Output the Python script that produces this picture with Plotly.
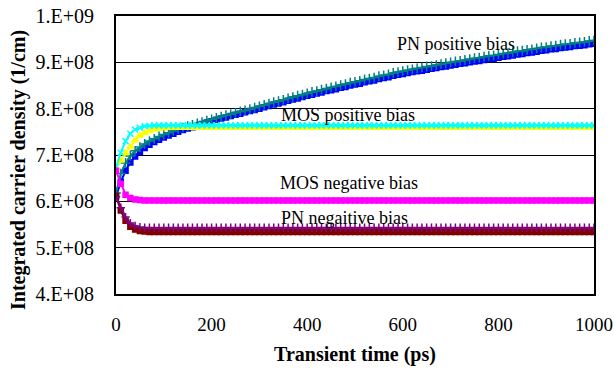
import plotly.graph_objects as go

# time grid (ps), sampled every 10 ps
times = list(range(0, 1001, 10))

# values in units of 1e8 (1/cm)
pn_pos_a = [6.18, 6.60, 6.83, 6.98, 7.09, 7.17, 7.24, 7.30, 7.35, 7.40, 7.44,
            7.48, 7.52, 7.56, 7.59, 7.62, 7.65, 7.68, 7.71, 7.74, 7.77,
            7.80, 7.83, 7.86, 7.88, 7.91, 7.94, 7.96, 7.99, 8.02, 8.05,
            8.08, 8.11, 8.14, 8.16, 8.19, 8.22, 8.25, 8.28, 8.30, 8.33,
            8.36, 8.38, 8.41, 8.43, 8.46, 8.48, 8.51, 8.53, 8.56, 8.58,
            8.60, 8.63, 8.65, 8.67, 8.70, 8.72, 8.74, 8.77, 8.79, 8.81,
            8.83, 8.85, 8.87, 8.89, 8.91, 8.92, 8.94, 8.96, 8.98, 9.00,
            9.02, 9.03, 9.05, 9.07, 9.09, 9.10, 9.12, 9.14, 9.15, 9.17,
            9.19, 9.20, 9.22, 9.24, 9.25, 9.27, 9.28, 9.30, 9.32, 9.33,
            9.35, 9.36, 9.38, 9.39, 9.40, 9.42, 9.43, 9.44, 9.46, 9.47]

pn_pos_b = [6.10, 6.42, 6.66, 6.84, 6.97, 7.07, 7.15, 7.22, 7.28, 7.33, 7.38,
            7.42, 7.46, 7.50, 7.54, 7.57, 7.60, 7.64, 7.67, 7.70, 7.73,
            7.76, 7.79, 7.81, 7.84, 7.87, 7.89, 7.92, 7.95, 7.97, 8.00,
            8.03, 8.06, 8.09, 8.11, 8.14, 8.17, 8.20, 8.22, 8.25, 8.28,
            8.30, 8.33, 8.35, 8.38, 8.40, 8.42, 8.45, 8.47, 8.50, 8.52,
            8.54, 8.57, 8.59, 8.61, 8.64, 8.66, 8.68, 8.71, 8.73, 8.75,
            8.77, 8.79, 8.81, 8.82, 8.84, 8.86, 8.88, 8.90, 8.91, 8.93,
            8.95, 8.97, 8.98, 9.00, 9.02, 9.03, 9.05, 9.07, 9.08, 9.10,
            9.12, 9.13, 9.15, 9.17, 9.18, 9.20, 9.21, 9.23, 9.25, 9.26,
            9.28, 9.29, 9.31, 9.32, 9.33, 9.35, 9.36, 9.37, 9.39, 9.40]

mos_pos_a = [6.74, 7.05, 7.30, 7.46, 7.55, 7.59, 7.62, 7.63, 7.64, 7.64, 7.64,
             7.64, 7.64, 7.64, 7.64, 7.64, 7.64, 7.64, 7.64, 7.64, 7.64,
             7.64, 7.64, 7.64, 7.64, 7.64, 7.64, 7.64, 7.64, 7.64, 7.64,
             7.64, 7.64, 7.64, 7.64, 7.64, 7.64, 7.64, 7.64, 7.64, 7.64,
             7.64, 7.64, 7.64, 7.64, 7.64, 7.64, 7.64, 7.64, 7.64, 7.64,
             7.64, 7.64, 7.64, 7.64, 7.64, 7.64, 7.64, 7.64, 7.64, 7.64,
             7.64, 7.64, 7.64, 7.64, 7.64, 7.64, 7.64, 7.64, 7.64, 7.64,
             7.64, 7.64, 7.64, 7.64, 7.64, 7.64, 7.64, 7.64, 7.64, 7.64,
             7.64, 7.64, 7.64, 7.64, 7.64, 7.64, 7.64, 7.64, 7.64, 7.64,
             7.64, 7.64, 7.64, 7.64, 7.64, 7.64, 7.64, 7.64, 7.64, 7.64]

mos_pos_b = [6.72, 6.88, 7.04, 7.18, 7.32, 7.42, 7.48, 7.52, 7.55, 7.57, 7.58,
             7.59, 7.59, 7.59, 7.59, 7.59, 7.59, 7.59, 7.59, 7.59, 7.59,
             7.59, 7.59, 7.59, 7.59, 7.59, 7.59, 7.59, 7.59, 7.59, 7.59,
             7.59, 7.59, 7.59, 7.59, 7.59, 7.59, 7.59, 7.59, 7.59, 7.59,
             7.59, 7.59, 7.59, 7.59, 7.59, 7.59, 7.59, 7.59, 7.59, 7.59,
             7.59, 7.59, 7.59, 7.59, 7.59, 7.59, 7.59, 7.59, 7.59, 7.59,
             7.59, 7.59, 7.59, 7.59, 7.59, 7.59, 7.59, 7.59, 7.59, 7.59,
             7.59, 7.59, 7.59, 7.59, 7.59, 7.59, 7.59, 7.59, 7.59, 7.59,
             7.59, 7.59, 7.59, 7.59, 7.59, 7.59, 7.59, 7.59, 7.59, 7.59,
             7.59, 7.59, 7.59, 7.59, 7.59, 7.59, 7.59, 7.59, 7.59, 7.59]

mos_neg = [6.66, 6.38, 6.14, 6.07, 6.04, 6.03, 6.02, 6.02, 6.02, 6.02, 6.02,
           6.02, 6.02, 6.02, 6.02, 6.02, 6.02, 6.02, 6.02, 6.02, 6.02,
           6.02, 6.02, 6.02, 6.02, 6.02, 6.02, 6.02, 6.02, 6.02, 6.02,
           6.02, 6.02, 6.02, 6.02, 6.02, 6.02, 6.02, 6.02, 6.02, 6.02,
           6.02, 6.02, 6.02, 6.02, 6.02, 6.02, 6.02, 6.02, 6.02, 6.02,
           6.02, 6.02, 6.02, 6.02, 6.02, 6.02, 6.02, 6.02, 6.02, 6.02,
           6.02, 6.02, 6.02, 6.02, 6.02, 6.02, 6.02, 6.02, 6.02, 6.02,
           6.02, 6.02, 6.02, 6.02, 6.02, 6.02, 6.02, 6.02, 6.02, 6.02,
           6.02, 6.02, 6.02, 6.02, 6.02, 6.02, 6.02, 6.02, 6.02, 6.02,
           6.02, 6.02, 6.02, 6.02, 6.02, 6.02, 6.02, 6.02, 6.02, 6.02]

pn_neg_a = [6.12, 5.80, 5.58, 5.45, 5.39, 5.36, 5.35, 5.34, 5.34, 5.34, 5.34,
            5.34, 5.34, 5.34, 5.34, 5.34, 5.34, 5.34, 5.34, 5.34, 5.34,
            5.34, 5.34, 5.34, 5.34, 5.34, 5.34, 5.34, 5.34, 5.34, 5.34,
            5.34, 5.34, 5.34, 5.34, 5.34, 5.34, 5.34, 5.34, 5.34, 5.34,
            5.34, 5.34, 5.34, 5.34, 5.34, 5.34, 5.34, 5.34, 5.34, 5.34,
            5.34, 5.34, 5.34, 5.34, 5.34, 5.34, 5.34, 5.34, 5.34, 5.34,
            5.34, 5.34, 5.34, 5.34, 5.34, 5.34, 5.34, 5.34, 5.34, 5.34,
            5.34, 5.34, 5.34, 5.34, 5.34, 5.34, 5.34, 5.34, 5.34, 5.34,
            5.34, 5.34, 5.34, 5.34, 5.34, 5.34, 5.34, 5.34, 5.34, 5.34,
            5.34, 5.34, 5.34, 5.34, 5.34, 5.34, 5.34, 5.34, 5.34, 5.34]

pn_neg_b = [6.10, 5.86, 5.66, 5.53, 5.47, 5.44, 5.43, 5.43, 5.43, 5.43, 5.43,
            5.43, 5.43, 5.43, 5.43, 5.43, 5.43, 5.43, 5.43, 5.43, 5.43,
            5.43, 5.43, 5.43, 5.43, 5.43, 5.43, 5.43, 5.43, 5.43, 5.43,
            5.43, 5.43, 5.43, 5.43, 5.43, 5.43, 5.43, 5.43, 5.43, 5.43,
            5.43, 5.43, 5.43, 5.43, 5.43, 5.43, 5.43, 5.43, 5.43, 5.43,
            5.43, 5.43, 5.43, 5.43, 5.43, 5.43, 5.43, 5.43, 5.43, 5.43,
            5.43, 5.43, 5.43, 5.43, 5.43, 5.43, 5.43, 5.43, 5.43, 5.43,
            5.43, 5.43, 5.43, 5.43, 5.43, 5.43, 5.43, 5.43, 5.43, 5.43,
            5.43, 5.43, 5.43, 5.43, 5.43, 5.43, 5.43, 5.43, 5.43, 5.43,
            5.43, 5.43, 5.43, 5.43, 5.43, 5.43, 5.43, 5.43, 5.43, 5.43]

y_tick_vals = [4e8, 5e8, 6e8, 7e8, 8e8, 9e8, 1e9]
y_tick_text = ["4.E+08", "5.E+08", "6.E+08", "7.E+08", "8.E+08", "9.E+08", "1.E+09"]
x_tick_vals = [0, 200, 400, 600, 800, 1000]

labels = ["PN positive bias", "MOS positive bias", "MOS negative bias", "PN negaitive bias"]
label_x = [712, 485, 488, 479]
label_y = [9.40e8, 7.86e8, 6.40e8, 5.64e8]

SCALE = 1e8
FONT = "Liberation Serif"

series = [
    (pn_pos_b, "#0000FF", "square", 5, 2),
    (pn_pos_a, "#008080", "cross-thin", 7, 2),
    (mos_pos_b, "#FFFF00", "triangle-up", 6, 2),
    (mos_pos_a, "#00FFFF", "x-thin", 6, 2),
    (mos_neg, "#FF00FF", "square", 5, 2),
    (pn_neg_a, "#800000", "square", 5, 2),
    (pn_neg_b, "#800080", "cross-thin", 6, 2),
]

fig = go.Figure()
for vals, color, sym, msize, lw in series:
    fig.add_trace(go.Scatter(
        x=times, y=[v * SCALE for v in vals], mode="lines+markers",
        line=dict(color=color, width=lw),
        marker=dict(symbol=sym, size=msize, color=color,
                    line=dict(color=color, width=1.5)),
        showlegend=False, hoverinfo="skip"))

for t, lx, ly in zip(labels, label_x, label_y):
    fig.add_annotation(x=lx, y=ly, xref="x", yref="y", text=t, showarrow=False,
                       font=dict(family=FONT, size=18, color="black"))

# y-axis title placed as a rotated annotation to match the reference position
fig.add_annotation(x=-0.205, y=0.446, xref="paper", yref="paper",
                   text="<b>Integrated carrier density (1/cm)</b>", textangle=-90,
                   showarrow=False, xanchor="center", yanchor="middle",
                   font=dict(family=FONT, size=20, color="black"))

fig.update_layout(
    width=614, height=376,
    margin=dict(l=116, r=20, t=16, b=82),
    paper_bgcolor="white", plot_bgcolor="white",
    font=dict(family=FONT, color="black"),
    xaxis=dict(range=[0, 1000], tickvals=x_tick_vals, showgrid=False,
               showline=True, linecolor="black", linewidth=2, mirror=True,
               zeroline=False, ticks="", ticklabelstandoff=12,
               ticklabeloverflow="allow", automargin=False,
               tickfont=dict(family=FONT, size=19),
               title=dict(text="<b>Transient time (ps)</b>", standoff=13,
                          font=dict(family=FONT, size=20))),
    yaxis=dict(range=[4e8, 1e9], tickvals=y_tick_vals, ticktext=y_tick_text,
               showgrid=True, gridcolor="black", gridwidth=1,
               showline=True, linecolor="black", linewidth=2, mirror=True,
               zeroline=False, ticks="", ticklabelstandoff=16,
               automargin=False,
               tickfont=dict(family=FONT, size=20)),
)

fig.write_html("out.html")
